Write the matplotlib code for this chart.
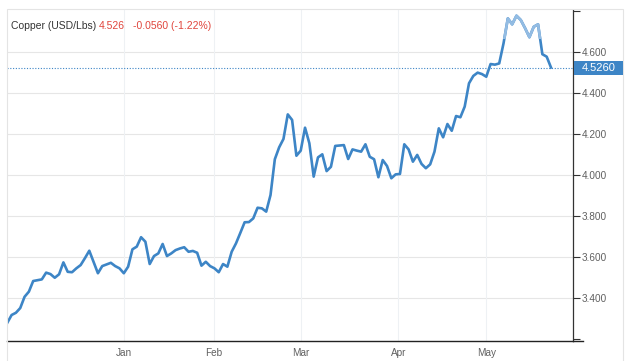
import matplotlib.pyplot as plt
from matplotlib.patches import Rectangle
from matplotlib.lines import Line2D

# daily closes, Copper (USD/Lbs)
prices = [3.279, 3.317, 3.328, 3.351, 3.406, 3.431, 3.483, 3.487, 3.491, 3.524,
          3.517, 3.499, 3.516, 3.574, 3.528, 3.526, 3.545, 3.561, 3.595, 3.631,
          3.576, 3.521, 3.556, 3.564, 3.572, 3.556, 3.545, 3.521, 3.553, 3.638,
          3.651, 3.697, 3.675, 3.566, 3.605, 3.618, 3.664, 3.605, 3.618, 3.634,
          3.642, 3.648, 3.626, 3.630, 3.621, 3.558, 3.577, 3.556, 3.545, 3.526,
          3.566, 3.553, 3.626, 3.667, 3.718, 3.770, 3.771, 3.789, 3.841, 3.838,
          3.822, 3.903, 4.078, 4.136, 4.177, 4.297, 4.270, 4.095, 4.120, 4.232,
          4.156, 3.993, 4.087, 4.102, 4.020, 4.041, 4.143, 4.145, 4.147, 4.079,
          4.126, 4.120, 4.115, 4.151, 4.090, 4.078, 3.990, 4.074, 4.045, 3.985,
          4.004, 4.006, 4.151, 4.126, 4.066, 4.099, 4.055, 4.034, 4.053, 4.115,
          4.229, 4.185, 4.250, 4.217, 4.289, 4.283, 4.335, 4.449, 4.485, 4.501,
          4.494, 4.481, 4.543, 4.540, 4.546, 4.644, 4.766, 4.737, 4.779, 4.758,
          4.718, 4.674, 4.725, 4.737, 4.591, 4.579, 4.526]
months = ['Jan', 'Feb', 'Mar', 'Apr', 'May']
month_idx = [27.1, 47.9, 68.0, 90.6, 111.0]
yticks = [3.2, 3.4, 3.6, 3.8, 4.0, 4.2, 4.4, 4.6, 4.8]
last = 4.526
change = '-0.0560 (-1.22%)'

plt.rcParams['font.family'] = ['Liberation Sans', 'DejaVu Sans']
W, H = 627, 361
fig = plt.figure(figsize=(W / 100, H / 100), dpi=100)
ax = fig.add_axes([7 / W, 1 - 341 / H, 566 / W, 331 / H])

x = list(range(len(prices)))
blue = '#3d85c6'
ax.plot(x, prices, color=blue, lw=1.9, solid_joinstyle='round', zorder=3)
# lighter top part of the line
ln, = ax.plot(x, prices, color='#93bce3', lw=1.9, solid_joinstyle='round', zorder=4)
clip = Rectangle((-5, 4.665), 200, 1, transform=ax.transData)
ln.set_clip_path(clip)

ax.axhline(last, color=blue, lw=0.8, ls=(0, (1, 1.5)), zorder=2)

ax.set_xlim(-0.07, 131.1)
ax.set_ylim(3.19, 4.807)

ax.yaxis.tick_right()
ax.set_yticks(yticks)
ax.set_yticklabels(['' if v in (3.2, 4.8) else '%.3f' % v for v in yticks])
ax.set_xticks(month_idx)
ax.set_xticklabels(months)
ax.tick_params(axis='y', length=5, width=0.8, pad=1, labelsize=7.2, labelcolor='#606060', color='#333333')
ax.tick_params(axis='x', length=0, pad=5, labelsize=7.2, labelcolor='#606060')

for v in yticks[1:-1]:
    ax.axhline(v, color='#e6e6e6', lw=0.8, zorder=1)
for m in month_idx:
    ax.axvline(m, color='#eef1f4', lw=0.8, zorder=1)

for s in ['top', 'left']:
    ax.spines[s].set_visible(False)
ax.spines['right'].set_color('#333333')
ax.spines['right'].set_linewidth(0.9)
ax.spines['bottom'].set_color('#222222')
ax.spines['bottom'].set_linewidth(1.0)

# price box on the right axis
ybox = ax.transData.transform((0, last))[1] / H
fig.add_artist(Rectangle((574 / W, ybox - 7 / H), 49 / W, 14 / H, transform=fig.transFigure,
                         fc=blue, ec='none', zorder=6))
fig.text(598.5 / W, ybox, '4.5260', ha='center', va='center', color='white', fontsize=8, zorder=7)

# widget frame
fig.add_artist(Rectangle((7 / W, -0.01), 616 / W, 1 - 9 / H + 0.01, transform=fig.transFigure,
                         fill=False, ec='#e4e4e4', lw=0.8))
fig.add_artist(Line2D([573 / W, 583 / W], [1 - 341 / H] * 2, color='#222222', lw=1.0))

ty = 1 - 26 / H
fig.text(11 / W, ty, 'Copper (USD/Lbs)', fontsize=7.5, color='#333333', va='center')
fig.text(98.5 / W, ty, '%.3f' % last, fontsize=7.5, color='#e0453c', va='center')
fig.text(133 / W, ty, change, fontsize=7.5, color='#e0453c', va='center')

fig.savefig('out.png', dpi=100)
